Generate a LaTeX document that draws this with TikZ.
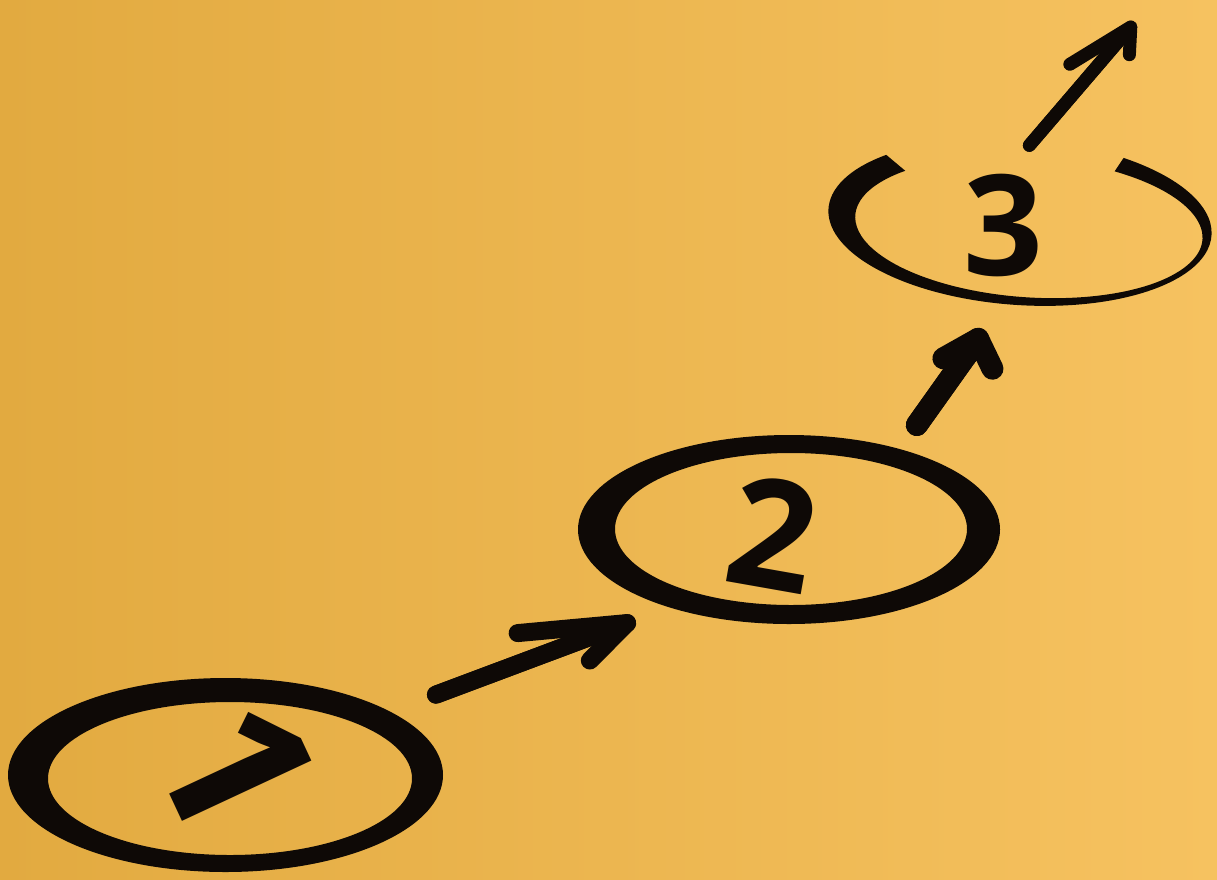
\documentclass[tikz,border=0pt]{standalone}
\usepackage{fontspec}
\setmainfont{Open Sans}
\usetikzlibrary{arrows.meta,shapes.geometric,calc}
\definecolor{ink}{RGB}{14,9,6}
\definecolor{paperL}{RGB}{226,170,64}
\definecolor{paperR}{RGB}{246,194,96}
\tikzset{
  anchorshape/.style={ellipse, inner sep=0pt, outer sep=0pt, draw=none},
  digit/.style={text=ink, font=\bfseries\fontsize{#1}{#1}\selectfont, inner sep=0pt},
  inkline/.style={draw=ink, line cap=round, line join=round},
}
\begin{document}
\begin{tikzpicture}[x=1pt,y=-1pt]
\useasboundingbox (0,0) rectangle (1217,879);
\shade[left color=paperL, right color=paperR] (0,0) rectangle (1217,879);

% ellipse nodes (anchors) and their hand-drawn rings
\node[anchorshape, minimum width=435pt, minimum height=194pt] (e1) at (225.5,775) {};
\node[anchorshape, minimum width=422pt, minimum height=189pt] (e2) at (789,529.5) {};
\node[anchorshape, minimum width=384pt, minimum height=166pt] (e3) at (1020,222) {};

\fill[ink, even odd rule] (e1.center) ellipse[x radius=217.5, y radius=97]
  ($(e1.center)+(4.5,3.5)$) ellipse[x radius=182, y radius=76.5];
\fill[ink, even odd rule] (e2.center) ellipse[x radius=211, y radius=94.5]
  ($(e2.center)+(2,-0.5)$) ellipse[x radius=176, y radius=76];
\begin{scope}[rotate around={-4:(1020,222)}]
\fill[ink] (1020,222) ++(224:192 and 83)
  arc[start angle=224, end angle=-59, x radius=192, y radius=83]
  -- ++(-8,14)
  arc[start angle=-62, end angle=223, x radius=174, y radius=70] -- cycle;
\end{scope}

% digits
\node[digit=200, rotate=-65] (d1) at (236,768) {1};
\node[digit=152, rotate=-10] (d2) at (773,534) {2};
\node[digit=140] (d3) at (1003,225) {3};

% connectors
\draw[inkline, line width=18pt, shorten <=48.7pt, shorten >=36pt,
  -{Straight Barb[left, length=106pt, width=58pt, round]},
  postaction={draw=ink, line width=18pt, -{Straight Barb[right, length=48pt, width=44pt, round]}}]
  (e1.21) -- (e2.213);
\draw[inkline, line width=22pt, shorten <=29.5pt, shorten >=31pt,
  -{Straight Barb[left, length=36pt, width=34pt, round]},
  postaction={draw=ink, line width=22pt, -{Straight Barb[right, length=16pt, width=58pt, round]}}]
  (e2.36) -- (e3.258);
\coordinate (out) at (1135,22);
\draw[inkline, line width=13pt, shorten <=-8pt,
  -{Straight Barb[left, length=68pt, width=44pt, round]},
  postaction={draw=ink, line width=13pt, -{Straight Barb[right, length=22pt, width=34pt, round]}}]
  (e3.80) -- (out);
\end{tikzpicture}
\end{document}
